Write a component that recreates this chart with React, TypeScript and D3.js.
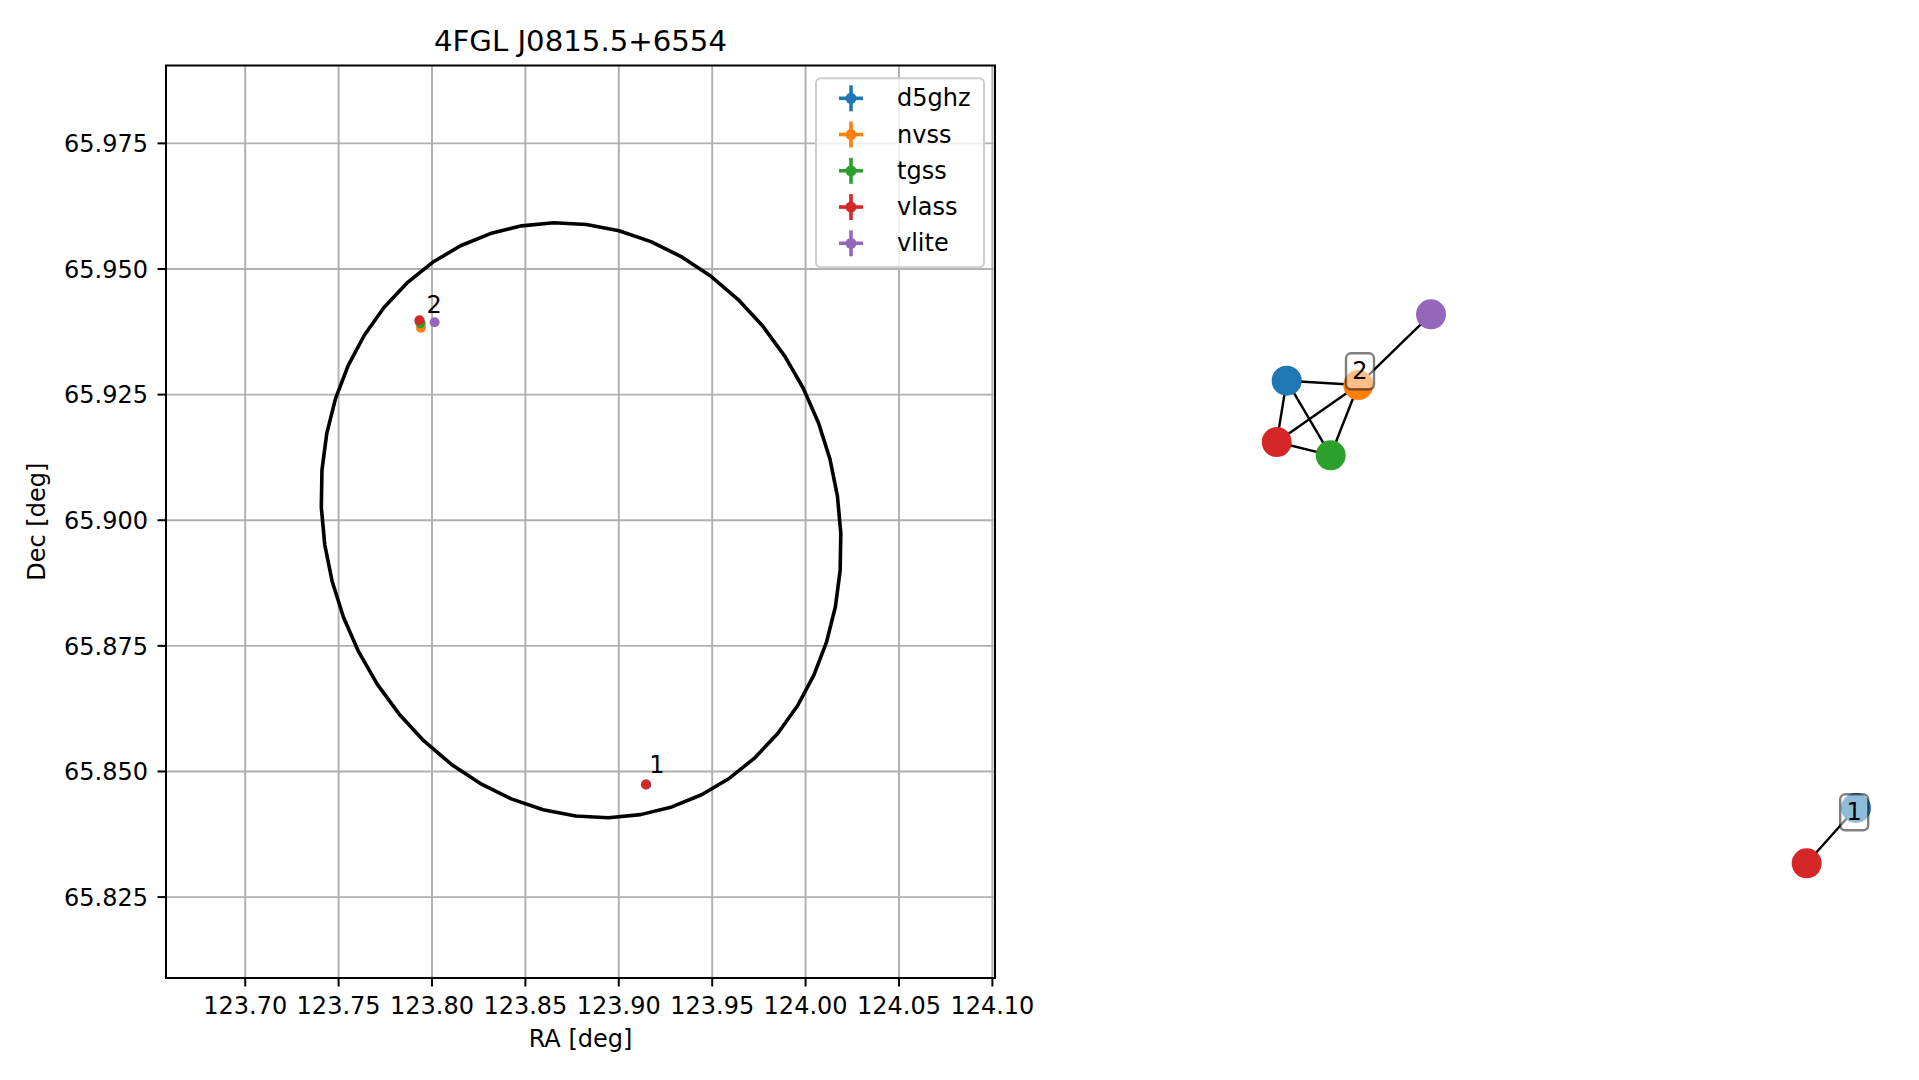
import React from "react";
import * as d3 from "d3";

// ---------- data ----------
const surveys = ["d5ghz", "nvss", "tgss", "vlass", "vlite"];
const surveyColors = ["#1f77b4", "#ff7f0e", "#2ca02c", "#d62728", "#9467bd"];

const srcSurvey = ["d5ghz", "nvss", "tgss", "vlass", "vlite", "d5ghz", "vlass"];
const srcRa = [123.7934, 123.7941, 123.7939, 123.7933, 123.8014, 123.9147, 123.9145];
const srcDec = [65.9395, 65.9383, 65.9392, 65.9398, 65.9394, 65.8474, 65.8474];

const groupIds = ["1", "2"];
const groupLabelRa = [123.9163, 123.7971];
const groupLabelDec = [65.8496, 65.9412];

const raTicks = [123.7, 123.75, 123.8, 123.85, 123.9, 123.95, 124.0, 124.05, 124.1];
const decTicks = [65.825, 65.85, 65.875, 65.9, 65.925, 65.95, 65.975];
const raDomain = [123.6576, 124.1014];
const decDomain = [65.8089, 65.9905];

// 4FGL localisation ellipse
const ellCenterRa = 123.8798;
const ellCenterDec = 65.9;
const ellSemiMajor = 0.06073;
const ellSemiMinor = 0.0552;
const ellAngleDeg = -57.7;
const ellVertices = 50;

// association graph (layout units)
const nodeIds = ["2_d5ghz", "2_nvss", "2_vlite", "2_vlass", "2_tgss", "1_d5ghz", "1_vlass"];
const nodeSurvey = ["d5ghz", "nvss", "vlite", "vlass", "tgss", "d5ghz", "vlass"];
const nodeX = [-0.4263, -0.2598, -0.0907, -0.4495, -0.324, 0.8977, 0.783];
const nodeY = [0.3077, 0.2982, 0.4533, 0.1732, 0.1441, -0.6294, -0.7507];
const edgeFrom = ["2_d5ghz", "2_d5ghz", "2_d5ghz", "2_nvss", "2_nvss", "2_vlass", "2_nvss", "1_vlass"];
const edgeTo = ["2_nvss", "2_vlass", "2_tgss", "2_vlass", "2_tgss", "2_tgss", "2_vlite", "1_d5ghz"];
const graphLabelText = ["2", "1"];
const graphLabelX = [-0.2558, 0.8935];
const graphLabelY = [0.3283, -0.6388];

const FONT = "DejaVu Sans, sans-serif";

export default function App() {
  const W = 1919, H = 1080;
  const L = 166, R = 995, T = 65.5, B = 978;
  const x = d3.scaleLinear().domain(raDomain).range([L, R]);
  const y = d3.scaleLinear().domain(decDomain).range([B, T]);
  const color = d3.scaleOrdinal<string, string>().domain(surveys).range(surveyColors);

  // ellipse polygon
  const th = (ellAngleDeg * Math.PI) / 180;
  const cosDec = Math.cos((ellCenterDec * Math.PI) / 180);
  const ellPts: [number, number][] = d3.range(ellVertices + 1).map((i) => {
    const t = (i / ellVertices) * 2 * Math.PI;
    const u = ellSemiMajor * Math.cos(t);
    const v = ellSemiMinor * Math.sin(t);
    const xs = u * Math.cos(th) - v * Math.sin(th);
    const ys = u * Math.sin(th) + v * Math.cos(th);
    return [ellCenterRa + xs / cosDec, ellCenterDec + ys];
  });
  const ellPath = d3.line<[number, number]>().x((d) => x(d[0])).y((d) => y(d[1]))(ellPts) || "";

  // graph scales
  const gx = d3.scaleLinear().domain([-1, 1]).range([1040, 1900]);
  const gy = d3.scaleLinear().domain([-1, 1]).range([977, 65]);
  const nodeIndex = (id: string) => nodeIds.indexOf(id);

  const order = surveys.flatMap((s) => srcSurvey.map((v, i) => (v === s ? i : -1)).filter((i) => i >= 0));

  const legX = 816, legY = 78.3, legW = 168, legH = 189, rowH = 36.25, firstRow = 98.3;

  return (
    <svg width={W} height={H} style={{ position: "absolute", left: 0, top: 0, background: "#fff" }} fontFamily={FONT}>
      <rect x={0} y={0} width={W} height={H} fill="#fff" />
      {/* grid */}
      <g stroke="#b0b0b0" strokeWidth={1.95}>
        {raTicks.map((t) => (
          <line key={"gx" + t} x1={x(t)} x2={x(t)} y1={T} y2={B} />
        ))}
        {decTicks.map((t) => (
          <line key={"gy" + t} x1={L} x2={R} y1={y(t)} y2={y(t)} />
        ))}
      </g>
      {/* ellipse */}
      <path d={ellPath} fill="none" stroke="#000" strokeWidth={3.6} strokeLinejoin="round" />
      {/* sources */}
      {order.map((i) => (
        <circle key={"s" + i} cx={x(srcRa[i])} cy={y(srcDec[i])} r={5} fill={color(srcSurvey[i])} />
      ))}
      {groupIds.map((g, i) => (
        <text key={"gl" + g} x={x(groupLabelRa[i])} y={y(groupLabelDec[i])} fontSize={24} fill="#000">
          {g}
        </text>
      ))}
      {/* legend */}
      <rect x={legX} y={legY} width={legW} height={legH} rx={5} fill="#fff" fillOpacity={0.8} stroke="#cccccc" strokeWidth={2} />
      {surveys.map((s, i) => {
        const cy = firstRow + i * rowH;
        const cx = 851;
        return (
          <g key={"leg" + s}>
            <line x1={cx - 12} x2={cx + 12} y1={cy} y2={cy} stroke={color(s)} strokeWidth={3.6} />
            <line x1={cx} x2={cx} y1={cy - 13} y2={cy + 13} stroke={color(s)} strokeWidth={3.6} />
            <circle cx={cx} cy={cy} r={5.5} fill={color(s)} />
            <text x={897} y={cy + 8} fontSize={24} fill="#000">
              {s}
            </text>
          </g>
        );
      })}
      {/* spines */}
      <rect x={L} y={T} width={R - L} height={B - T} fill="none" stroke="#000" strokeWidth={2} />
      {/* ticks */}
      <g stroke="#000" strokeWidth={2}>
        {raTicks.map((t) => (
          <line key={"tx" + t} x1={x(t)} x2={x(t)} y1={B} y2={B + 8.5} />
        ))}
        {decTicks.map((t) => (
          <line key={"ty" + t} x1={L - 8.5} x2={L} y1={y(t)} y2={y(t)} />
        ))}
      </g>
      <g fontSize={24} fill="#000">
        {raTicks.map((t) => (
          <text key={"lx" + t} x={x(t)} y={1014} textAnchor="middle">
            {d3.format(".2f")(t)}
          </text>
        ))}
        {decTicks.map((t) => (
          <text key={"ly" + t} x={148} y={y(t) + 8.7} textAnchor="end">
            {d3.format(".3f")(t)}
          </text>
        ))}
      </g>
      <text x={(L + R) / 2} y={1047} fontSize={24} textAnchor="middle">
        RA [deg]
      </text>
      <text transform={`translate(45.2, ${(T + B) / 2}) rotate(-90)`} fontSize={24} textAnchor="middle">
        Dec [deg]
      </text>
      <text x={(L + R) / 2} y={51} fontSize={29.2} textAnchor="middle">
        4FGL J0815.5+6554
      </text>

      {/* association graph */}
      <g stroke="#000" strokeWidth={2.4}>
        {edgeFrom.map((f, i) => {
          const a = nodeIndex(f), b = nodeIndex(edgeTo[i]);
          return <line key={"e" + i} x1={gx(nodeX[a])} y1={gy(nodeY[a])} x2={gx(nodeX[b])} y2={gy(nodeY[b])} />;
        })}
      </g>
      {nodeIds.map((id, i) => (
        <circle key={id} cx={gx(nodeX[i])} cy={gy(nodeY[i])} r={15} fill={color(nodeSurvey[i])} />
      ))}
      {graphLabelText.map((t, i) => {
        const cx = gx(graphLabelX[i]), cy = gy(graphLabelY[i]);
        return (
          <g key={"glb" + t}>
            <rect x={cx - 14} y={cy - 18} width={28} height={36} rx={5} fill="#fff" fillOpacity={0.5} stroke="#000" strokeOpacity={0.5} strokeWidth={2.4} />
            <text x={cx} y={cy + 7.5} fontSize={24} textAnchor="middle" fill="#000">
              {t}
            </text>
          </g>
        );
      })}
    </svg>
  );
}
